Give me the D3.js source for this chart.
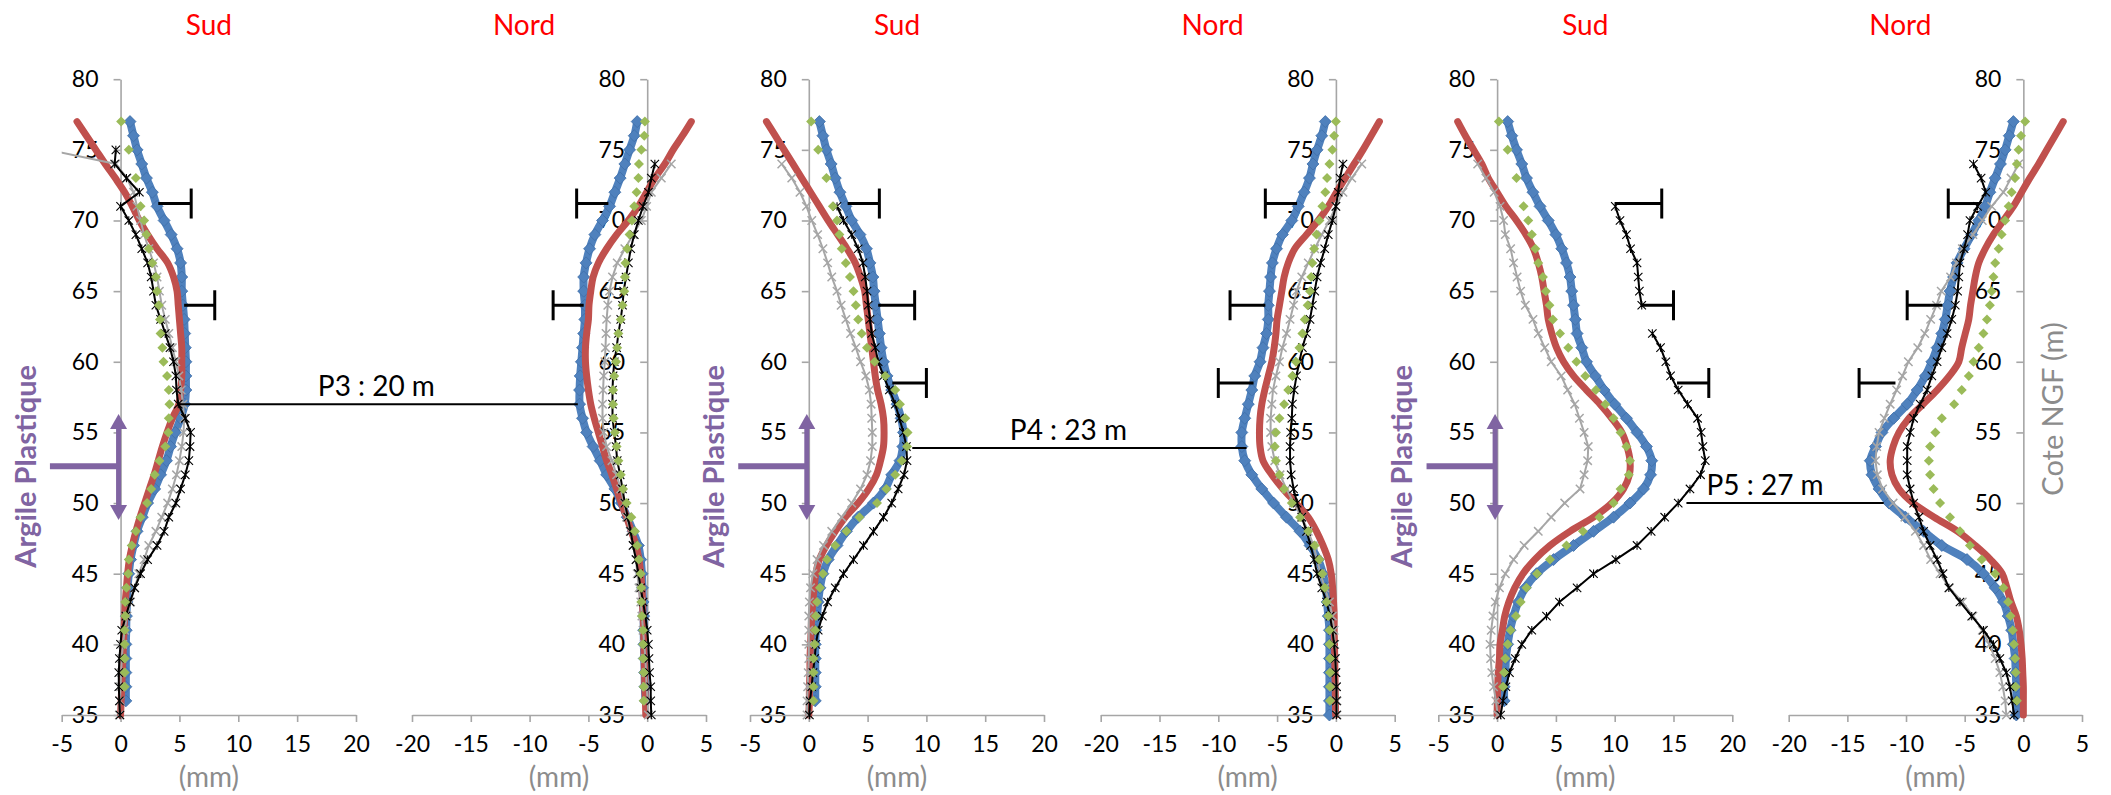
<!DOCTYPE html>
<html><head><meta charset="utf-8">
<script src="https://cdn.jsdelivr.net/npm/d3@7"></script>
<style>html,body{margin:0;padding:0;background:#fff;}svg{display:block;font-family:Lato,'Open Sans',sans-serif;}</style>
</head><body>
<svg id="chart" width="2111" height="795"></svg>
<script>
// ---------- DATA ----------
const DEPTH = [77,76,75,74,73,72,71,70,69,68,67,66,65,64,63,62,61,60,59,58,57,56,55,54,53,52,51,50,49,48,47,46,45,44,43,42,41,40,39,38,37,36,35];
const Y_TICKS = [35,40,45,50,55,60,65,70,75,80];
const X_TICKS_SUD = [-5,0,5,10,15,20];
const X_TICKS_NORD = [-20,-15,-10,-5,0,5];
const X_DOMAIN_SUD = [-5,20];
const X_DOMAIN_NORD = [-20,5];
const SIDES = ["Sud","Nord","Sud","Nord","Sud","Nord"];

// P3 Sud
const p3SudBlue = [0.8,1.1,1.4,1.8,2.2,2.7,3.1,3.7,4.3,4.8,5.1,5.2,5.2,5.3,5.4,5.45,5.5,5.55,5.55,5.55,5.45,5.1,4.65,4.25,3.9,3.4,2.9,2.3,1.85,1.4,1.1,0.85,0.7,0.6,0.55,0.5,0.48,0.45,0.45,0.45,0.45,0.45,null];
const p3SudRed = [-3.7,-2.9,-2.1,-1.3,-0.45,0.35,1.0,1.6,2.3,3.1,4.0,4.5,4.8,4.9,5.0,5.1,5.2,5.2,5.2,5.1,4.95,4.4,3.95,3.55,3.2,2.85,2.45,2.05,1.65,1.3,1.0,0.75,0.6,0.5,0.4,0.35,0.3,0.25,0.2,0.15,0.1,0.05,0];
const p3SudGreen = [0.05,null,0.7,null,1.3,null,1.7,2.0,2.2,2.4,2.7,3.0,3.1,3.25,3.35,3.4,3.55,3.65,3.95,4.1,4.15,4.1,4.05,3.8,3.3,2.9,2.6,2.25,1.7,1.3,0.95,0.7,0.65,0.5,0.4,0.4,0.35,0.35,0.35,0.35,0.35,null,null];
const p3SudGray = [null,null,-6.1,-0.4,0.55,1.1,1.4,1.7,2.0,2.4,2.8,3.1,3.3,3.5,3.8,4.1,4.4,4.7,4.95,5.15,5.3,5.4,5.35,5.2,5.0,4.75,4.4,4.0,3.5,3.0,2.4,2.0,1.55,1.2,0.85,0.55,0.35,0.2,0.1,0.05,0,-0.05,-0.1];
const p3SudBlack = [null,null,-0.4,-0.5,0.5,1.6,0.0,0.7,1.3,1.8,2.3,2.6,2.8,3.0,3.4,3.8,4.2,4.5,4.7,4.75,4.9,5.5,5.95,5.9,5.8,5.5,5.1,4.7,4.1,3.7,3.1,2.3,1.7,1.2,0.8,0.45,0.1,0,-0.1,-0.15,-0.15,-0.1,-0.05];
const p3SudBars = [[71.2,3.2,6.0],[64.0,5.4,8.0]];

// P3 Nord
const p3NordBlue = [-0.85,-1.1,-1.5,-1.9,-2.3,-2.75,-3.2,-3.8,-4.45,-4.9,-5.2,-5.4,-5.4,-5.3,-5.3,-5.4,-5.5,-5.6,-5.7,-5.75,-5.75,-5.5,-5.15,-4.6,-4.0,-3.45,-2.75,-2.2,-1.7,-1.2,-0.75,-0.55,-0.45,-0.4,-0.35,-0.3,-0.3,-0.28,-0.25,-0.22,-0.2,-0.15,null];
const p3NordRed = [3.75,3.0,2.2,1.5,0.65,-0.05,-0.75,-1.6,-2.6,-3.45,-4.15,-4.6,-4.8,-4.95,-5.0,-5.15,-5.25,-5.25,-5.15,-5.0,-4.8,-4.5,-4.15,-3.8,-3.45,-3.0,-2.6,-2.2,-1.75,-1.35,-0.95,-0.7,-0.55,-0.45,-0.4,-0.35,-0.3,-0.28,-0.25,-0.22,-0.2,-0.15,-0.12];
const p3NordGreen = [-0.2,-0.25,-0.5,-0.7,-0.75,-0.9,-1.1,-1.3,-1.5,-1.7,-1.85,-1.9,-1.95,-2.1,-2.25,-2.45,-2.55,-2.65,-2.8,-2.9,-2.9,-2.85,-2.75,-2.6,-2.45,-2.25,-2.05,-1.75,-1.35,-1.05,-0.85,-0.7,-0.55,-0.5,-0.5,-0.45,-0.35,-0.35,-0.35,-0.3,-0.3,-0.3,null];
const p3NordGray = [null,null,null,2.05,1.2,0.35,-0.05,-0.5,-1.2,-1.9,-2.55,-2.95,-3.2,-3.35,-3.45,-3.5,-3.55,-3.6,-3.7,-3.75,-3.8,-3.8,-3.7,-3.45,-3.0,-2.6,-2.25,-1.95,-1.75,-1.45,-1.2,-0.95,-0.85,-0.7,-0.55,-0.45,-0.35,-0.25,-0.15,-0.1,-0.05,0.05,0.1];
const p3NordBlack = [null,null,null,0.65,0.35,0.1,-0.35,-0.75,-1.1,-1.4,-1.6,-1.8,-2.0,-2.1,-2.25,-2.45,-2.6,-2.8,-2.9,-2.95,-2.95,-2.95,-2.8,-2.65,-2.55,-2.3,-2.1,-1.9,-1.65,-1.4,-1.2,-0.95,-0.75,-0.55,-0.35,-0.15,0,0.1,0.15,0.2,0.3,0.3,0.35];
const p3NordBars = [[71.2,-3.3,-6.0],[64.0,-5.4,-8.0]];

// P4 Sud
const p4SudBlue = [0.9,1.2,1.5,1.9,2.25,2.65,3.15,3.65,4.35,4.9,5.2,5.45,5.55,5.7,5.85,6.0,6.15,6.35,6.65,7.05,7.5,7.85,8.05,8.0,7.75,7.05,6.5,5.5,4.2,3.2,2.4,1.65,1.2,0.95,0.8,0.7,0.6,0.55,0.55,0.55,0.55,0.55,null];
const p4SudRed = [-3.6,-2.85,-2.1,-1.35,-0.6,0.15,0.9,1.65,2.45,3.25,3.95,4.4,4.75,4.9,5.05,5.2,5.35,5.5,5.65,5.85,6.15,6.35,6.4,6.35,6.1,5.75,5.1,4.2,3.1,2.25,1.5,0.9,0.6,0.45,0.35,0.25,0.2,0.15,0.1,0.1,0.05,0.05,0];
const p4SudGreen = [0.2,null,0.8,null,1.5,null,2.05,2.4,2.6,2.8,3.15,3.5,3.8,4.0,4.2,4.5,4.95,5.6,6.5,7.35,7.75,8.2,8.4,8.35,7.9,7.35,6.6,5.8,4.3,3.2,2.25,1.55,1.2,0.95,0.7,0.6,0.55,0.5,0.4,0.4,0.4,0.4,null];
const p4SudGray = [null,null,null,-2.3,-1.45,-0.75,-0.2,0.25,0.75,1.2,1.6,1.95,2.4,2.75,3.15,3.55,4.0,4.4,4.85,5.15,5.3,5.35,5.4,5.4,5.25,4.95,4.4,3.65,2.8,1.95,1.25,0.7,0.35,0.15,0.05,0,0,0,0,-0.05,-0.1,-0.15,-0.15];
const p4SudBlack = [null,null,null,null,null,null,2.4,2.95,3.65,4.2,4.6,4.8,4.95,5.05,5.2,5.35,5.65,5.9,6.35,6.85,7.35,7.7,8.05,8.3,8.35,8.1,7.6,7.05,6.35,5.5,4.65,3.8,2.95,2.25,1.6,1.15,0.8,0.6,0.5,0.35,0.25,0.1,0.05];
const p4SudBars = [[71.2,3.3,6.0],[64.0,5.9,9.0],[58.5,7.1,10.0]];

// P4 Nord
const p4NordBlue = [-0.9,-1.2,-1.6,-1.95,-2.25,-2.7,-3.2,-3.75,-4.55,-5.05,-5.4,-5.55,-5.65,-5.75,-5.75,-5.9,-6.2,-6.45,-6.9,-7.15,-7.45,-7.75,-8.0,-8.0,-7.75,-7.15,-6.3,-5.3,-4.2,-3.05,-2.2,-1.5,-1.1,-0.85,-0.75,-0.65,-0.55,-0.55,-0.55,-0.55,-0.55,-0.55,-0.55];
const p4NordRed = [3.7,3.0,2.3,1.55,0.8,0.05,-0.65,-1.5,-2.5,-3.5,-4.05,-4.4,-4.6,-4.8,-5.0,-5.1,-5.25,-5.45,-5.75,-6.05,-6.3,-6.45,-6.5,-6.45,-6.2,-5.45,-4.5,-3.4,-2.35,-1.65,-1.1,-0.65,-0.4,-0.28,-0.2,-0.15,-0.15,-0.12,-0.1,-0.08,-0.06,-0.04,-0.03];
const p4NordGreen = [0,-0.15,-0.3,-0.55,-0.75,-0.9,-1.15,-1.4,-1.65,-1.85,-2.0,-2.1,-2.2,-2.4,-2.65,-2.85,-3.1,-3.4,-3.7,-4.05,-4.4,-4.8,-5.1,-5.2,-5.1,-4.8,-4.4,-3.75,-3.05,-2.35,-1.8,-1.4,-1.15,-0.95,-0.8,-0.65,-0.55,-0.55,-0.5,-0.5,-0.5,-0.5,null];
const p4NordGray = [null,null,null,2.2,1.35,0.6,0,-0.55,-1.2,-1.8,-2.35,-2.9,-3.35,-3.6,-3.9,-4.2,-4.55,-4.8,-5.1,-5.35,-5.45,-5.55,-5.55,-5.45,-5.2,-4.75,-4.2,-3.6,-2.9,-2.35,-1.9,-1.6,-1.3,-0.95,-0.55,-0.3,-0.15,-0.1,-0.05,0,0.05,0.1,0.1];
const p4NordBlack = [null,null,null,0.6,0.35,0.2,0,-0.3,-0.65,-0.95,-1.3,-1.6,-1.8,-2.0,-2.2,-2.5,-2.85,-3.1,-3.35,-3.55,-3.7,-3.75,-3.85,-3.9,-3.9,-3.8,-3.6,-3.3,-2.9,-2.5,-2.15,-1.85,-1.6,-1.2,-0.8,-0.5,-0.3,-0.15,-0.05,0,0.05,0.05,0.05];
const p4NordBars = [[71.2,-3.3,-6.0],[64.0,-6.0,-9.0],[58.5,-7.0,-10.0]];

// P5 Sud
const p5SudBlue = [0.9,1.25,1.65,2.1,2.5,3.05,3.65,4.35,5.0,5.5,5.9,6.2,6.35,6.5,6.65,6.8,7.2,7.6,8.35,9.1,10.0,11.0,11.9,12.7,13.15,13.05,12.45,11.3,9.9,8.2,6.5,4.8,3.35,2.4,1.8,1.4,1.1,0.9,0.75,0.7,0.6,0.6,null];
const p5SudRed = [-3.35,-2.7,-2.0,-1.3,-0.75,0,0.75,1.65,2.45,3.1,3.5,3.8,4.0,4.2,4.35,4.65,5.05,5.65,6.5,7.6,8.75,9.75,10.6,11.05,11.3,11.25,10.75,9.75,8.2,6.2,4.5,3.2,2.2,1.5,1.0,0.65,0.45,0.25,0.2,0.1,0.05,0.02,0];
const p5SudGreen = [0.15,null,0.9,null,1.65,null,2.25,2.65,2.95,3.25,3.5,3.9,4.15,4.45,4.75,5.35,6.05,6.75,7.5,8.4,9.2,9.9,10.5,11.0,11.3,11.2,10.5,9.9,8.7,7.3,5.9,4.5,3.4,2.5,2.0,1.6,1.15,0.9,0.7,0.6,0.5,null,null];
const p5SudGray = [null,null,null,-1.65,-0.95,-0.25,0.25,0.55,0.7,1.15,1.4,1.7,2.0,2.4,3.05,3.5,4.05,4.6,5.45,6.0,6.6,7.0,7.4,7.75,7.7,7.4,7.05,5.75,4.6,3.5,2.3,1.4,0.7,0.2,-0.15,-0.35,-0.5,-0.6,-0.55,-0.45,-0.3,-0.1,0.05];
const p5SudBlack = [null,null,null,null,null,null,10.05,10.45,11.0,11.35,11.9,12.0,12.1,12.3,null,13.2,13.9,14.35,14.75,15.4,16.2,17.05,17.35,17.5,17.7,17.3,16.4,15.4,14.25,13.1,11.9,10.1,8.2,6.8,5.3,4.2,2.95,2.1,1.55,1.05,0.75,0.5,0.3];
const p5SudBars = [[71.2,10.0,14.0],[64.0,12.2,15.0],[58.5,15.3,18.0]];

// P5 Nord
const p5NordBlue = [-0.85,-1.2,-1.55,-1.95,-2.4,-2.85,-3.25,-3.8,-4.4,-5.05,-5.65,-5.95,-6.25,-6.45,-6.65,-6.95,-7.35,-7.8,-8.35,-9.05,-9.9,-11.05,-12.05,-12.6,-13.05,-12.9,-12.3,-11.45,-10.05,-8.5,-6.95,-4.8,-3.4,-2.4,-1.7,-1.3,-1.0,-0.85,-0.7,-0.65,-0.6,-0.6,-0.6];
const p5NordRed = [3.4,2.7,2.0,1.3,0.55,-0.15,-0.85,-1.7,-2.55,-3.25,-3.8,-4.1,-4.3,-4.5,-4.65,-4.95,-5.25,-5.5,-6.3,-7.35,-8.55,-9.75,-10.6,-11.1,-11.35,-11.2,-10.6,-9.4,-7.6,-5.6,-4.1,-2.8,-1.8,-1.4,-1.05,-0.6,-0.35,-0.2,-0.1,-0.05,0,0,0];
const p5NordGreen = [0.15,-0.2,-0.4,-0.55,-0.7,-1.0,-1.25,-1.55,-1.85,-2.1,-2.4,-2.55,-2.7,-2.85,-3.1,-3.4,-3.8,-4.25,-4.65,-5.25,-5.9,-6.95,-7.5,-7.95,-8.05,-7.95,-7.65,-7.1,-6.25,-5.4,-4.55,-3.55,-2.4,-1.7,-1.3,-1.1,-0.9,-0.8,-0.7,-0.65,-0.65,-0.55,null];
const p5NordGray = [null,null,null,-0.4,-1.05,-1.7,-2.7,-3.5,-4.3,-5.2,-5.7,-6.2,-7.0,-7.4,-7.9,-8.4,-9.0,-9.8,-10.3,-10.8,-11.35,-11.85,-12.3,-12.5,-12.6,-12.45,-12.0,-11.1,-10.1,-9.2,-8.5,-7.9,-7.1,-6.3,-5.2,-4.3,-3.5,-2.9,-2.4,-2.0,-1.75,-1.55,-1.45];
const p5NordBlack = [null,null,null,-4.25,-3.6,-3.2,-3.9,-4.55,-4.75,-5.05,-5.4,-5.5,-5.6,-5.8,-6.1,-6.5,-6.95,-7.35,-7.8,-8.2,-8.8,-9.35,-9.65,-9.9,-9.9,-9.9,-9.65,-9.35,-8.9,-8.5,-7.95,-7.35,-6.85,-6.35,-5.4,-4.4,-3.4,-2.55,-2.0,-1.45,-1.15,-0.95,-0.8];
const p5NordBars = [[71.2,-3.7,-6.4],[64.0,-6.9,-9.9],[58.5,-10.9,-14.0]];

// Inclinometer pair annotations
const PROFILE_NAMES = ["P3 : 20 m","P4 : 23 m","P5 : 27 m"];
const PROFILE_DEPTHS = [57.0, 53.9, 50.0];
const PROFILE_SUD_X = [4.96, 8.8, 16.1];
const PROFILE_NORD_X = [-5.9, -7.6, -11.9];

// Argile Plastique layer (top, middle, bottom) and bar end (mm)
const ARGILE_LEVELS = [56.3, 52.6, 48.8];
const ARGILE_BAR_X = -6;
const ARGILE_LABEL = "Argile Plastique";
const X_TITLE = "(mm)";
const Y_TITLE = "Cote NGF (m)";

// ---------- LAYOUT / STYLE ----------
const LAYOUT = [[61.7,356],[412,706],[750,1044],[1100.7,1394.7],[1438.3,1732.3],[1788.7,2082]];
const PROFILE_LABEL_DX = [-2,-11,-20];
const COL = {blue:"#4F81BD", blueEdge:"#3F6FA8", red:"#C0504D", green:"#9BBB59", gray:"#A6A6A6", black:"#000000", purple:"#8064A2", axis:"#A6A6A6", title:"#FF0000", label:"#8C8C8C"};

const panels = [
  {side:SIDES[0], domain:X_DOMAIN_SUD, ticks:X_TICKS_SUD, blue:p3SudBlue, red:p3SudRed, green:p3SudGreen, gray:p3SudGray, black:p3SudBlack, bars:p3SudBars},
  {side:SIDES[1], domain:X_DOMAIN_NORD, ticks:X_TICKS_NORD, blue:p3NordBlue, red:p3NordRed, green:p3NordGreen, gray:p3NordGray, black:p3NordBlack, bars:p3NordBars},
  {side:SIDES[2], domain:X_DOMAIN_SUD, ticks:X_TICKS_SUD, blue:p4SudBlue, red:p4SudRed, green:p4SudGreen, gray:p4SudGray, black:p4SudBlack, bars:p4SudBars},
  {side:SIDES[3], domain:X_DOMAIN_NORD, ticks:X_TICKS_NORD, blue:p4NordBlue, red:p4NordRed, green:p4NordGreen, gray:p4NordGray, black:p4NordBlack, bars:p4NordBars},
  {side:SIDES[4], domain:X_DOMAIN_SUD, ticks:X_TICKS_SUD, blue:p5SudBlue, red:p5SudRed, green:p5SudGreen, gray:p5SudGray, black:p5SudBlack, bars:p5SudBars},
  {side:SIDES[5], domain:X_DOMAIN_NORD, ticks:X_TICKS_NORD, blue:p5NordBlue, red:p5NordRed, green:p5NordGreen, gray:p5NordGray, black:p5NordBlack, bars:p5NordBars}
];

const svg = d3.select("#chart");
const y = d3.scaleLinear().domain([35,80]).range([715,79.2]);
const FONT = "Lato, 'Open Sans', sans-serif";

const diamond = r => `M0,${-r}L${r},0L0,${r}L${-r},0Z`;
const cross = r => `M${-r},${-r}L${r},${r}M${-r},${r}L${r},${-r}`;
const star = r => cross(r) + `M0,${-r}L0,${r}`;

const defs = svg.append("defs");

panels.forEach((p, i) => {
  const x = d3.scaleLinear().domain(p.domain).range(LAYOUT[i]);
  p.x = x;
  const x0 = x(0);
  const cx = (LAYOUT[i][0] + LAYOUT[i][1]) / 2;

  // axes
  const fmt = d => String(d);
  const yAx = svg.append("g").attr("transform", `translate(${x0},0)`)
    .call(d3.axisLeft(y).tickValues(Y_TICKS).tickSize(7).tickSizeOuter(0).tickPadding(15).tickFormat(fmt));
  const xAx = svg.append("g").attr("transform", `translate(0,${y(35)})`)
    .call(d3.axisBottom(x).tickValues(p.ticks).tickSize(7).tickSizeOuter(0).tickPadding(14).tickFormat(fmt));
  [yAx, xAx].forEach(a => {
    a.select(".domain").attr("stroke", COL.axis).attr("stroke-width", 1.6);
    a.selectAll(".tick line").attr("stroke", COL.axis).attr("stroke-width", 1.6);
    a.selectAll(".tick text").attr("fill", "#000").style("font-size", "23px").style("font-family", FONT);
  });

  // title
  svg.append("text").attr("x", p.side === "Sud" ? cx : cx - 35).attr("y", 35)
    .attr("text-anchor", "middle").attr("fill", COL.title)
    .style("font-size", "28px").style("font-family", FONT).text(p.side);
  // (mm)
  svg.append("text").attr("x", cx).attr("y", 787).attr("text-anchor", "middle")
    .attr("fill", COL.label).style("font-size", "28px").style("font-family", FONT).text(X_TITLE);

  // clip
  const cid = "clip" + i;
  defs.append("clipPath").attr("id", cid).append("rect")
    .attr("x", LAYOUT[i][0]).attr("y", 0).attr("width", LAYOUT[i][1] - LAYOUT[i][0]).attr("height", 795);
  const sg = svg.append("g").attr("clip-path", `url(#${cid})`);

  const pts = arr => DEPTH.map((d, k) => ({d: d, v: arr[k]}));
  const valid = arr => pts(arr).filter(o => o.v !== null);
  const smooth = d3.line().defined(o => o.v !== null).x(o => x(o.v)).y(o => y(o.d)).curve(d3.curveCatmullRom.alpha(0.5));
  const straight = d3.line().defined(o => o.v !== null).x(o => x(o.v)).y(o => y(o.d));

  // blue
  sg.append("path").attr("d", smooth(pts(p.blue))).attr("fill", "none")
    .attr("stroke", COL.blue).attr("stroke-width", 8).attr("stroke-linejoin", "round");
  sg.selectAll(null).data(valid(p.blue)).join("path")
    .attr("transform", o => `translate(${x(o.v)},${y(o.d)})`).attr("d", diamond(6)).attr("fill", COL.blue)
    .attr("stroke", COL.blueEdge).attr("stroke-width", 0.8);
  // red
  sg.append("path").attr("d", smooth(pts(p.red))).attr("fill", "none")
    .attr("stroke", COL.red).attr("stroke-width", 7).attr("stroke-linejoin", "round").attr("stroke-linecap", "round");
  // gray
  sg.append("path").attr("d", straight(pts(p.gray))).attr("fill", "none")
    .attr("stroke", COL.gray).attr("stroke-width", 2);
  sg.selectAll(null).data(valid(p.gray)).join("path")
    .attr("transform", o => `translate(${x(o.v)},${y(o.d)})`).attr("d", cross(4.2)).attr("stroke", COL.gray).attr("stroke-width", 1.5).attr("fill", "none");
  // black
  sg.append("path").attr("d", straight(pts(p.black))).attr("fill", "none")
    .attr("stroke", COL.black).attr("stroke-width", 2);
  sg.selectAll(null).data(valid(p.black)).join("path")
    .attr("transform", o => `translate(${x(o.v)},${y(o.d)})`).attr("d", star(4.2)).attr("stroke", COL.black).attr("stroke-width", 1.1).attr("fill", "none");
  // green
  sg.selectAll(null).data(valid(p.green)).join("path")
    .attr("transform", o => `translate(${x(o.v)},${y(o.d)})`).attr("d", diamond(5)).attr("fill", COL.green);

  // error bars
  p.bars.forEach(b => {
    const yy = y(b[0]);
    svg.append("line").attr("x1", x(b[1])).attr("x2", x(b[2])).attr("y1", yy).attr("y2", yy)
      .attr("stroke", "#000").attr("stroke-width", 3);
    svg.append("line").attr("x1", x(b[2])).attr("x2", x(b[2])).attr("y1", yy - 15).attr("y2", yy + 15)
      .attr("stroke", "#000").attr("stroke-width", 3);
  });

  // Argile Plastique marker
  if (p.side === "Sud") {
    const ax = x0 - 2;
    const yTop = y(ARGILE_LEVELS[0]), yMid = y(ARGILE_LEVELS[1]), yBot = y(ARGILE_LEVELS[2]);
    svg.append("line").attr("x1", ax).attr("x2", ax).attr("y1", yTop + 12).attr("y2", yBot - 12)
      .attr("stroke", COL.purple).attr("stroke-width", 5);
    svg.append("path").attr("d", `M${ax},${yTop}L${ax + 8.5},${yTop + 15}L${ax - 8.5},${yTop + 15}Z`).attr("fill", COL.purple);
    svg.append("path").attr("d", `M${ax},${yBot}L${ax + 8.5},${yBot - 15}L${ax - 8.5},${yBot - 15}Z`).attr("fill", COL.purple);
    svg.append("line").attr("x1", x(ARGILE_BAR_X)).attr("x2", ax).attr("y1", yMid).attr("y2", yMid)
      .attr("stroke", COL.purple).attr("stroke-width", 6);
    svg.append("text").attr("transform", `translate(${x0 - 85},${yMid}) rotate(-90)`)
      .attr("text-anchor", "middle").attr("fill", COL.purple).style("font-weight", "bold")
      .style("font-size", "29px").style("font-family", FONT).text(ARGILE_LABEL);
  }
});

// profile pair lines
PROFILE_NAMES.forEach((name, k) => {
  const ps = panels[2 * k], pn = panels[2 * k + 1];
  const yy = y(PROFILE_DEPTHS[k]);
  const xa = ps.x(PROFILE_SUD_X[k]), xb = pn.x(PROFILE_NORD_X[k]);
  svg.append("line").attr("x1", xa).attr("x2", xb).attr("y1", yy).attr("y2", yy)
    .attr("stroke", "#000").attr("stroke-width", 2);
  svg.append("text").attr("x", (xa + xb) / 2 + PROFILE_LABEL_DX[k]).attr("y", yy - 8)
    .attr("text-anchor", "middle").attr("fill", "#000")
    .style("font-size", "28px").style("font-family", FONT).text(name);
});

// right axis title
svg.append("text").attr("transform", "translate(2063,409) rotate(-90)")
  .attr("text-anchor", "middle").attr("fill", COL.label)
  .style("font-size", "29px").style("font-family", FONT).text(Y_TITLE);
</script>
</body></html>
